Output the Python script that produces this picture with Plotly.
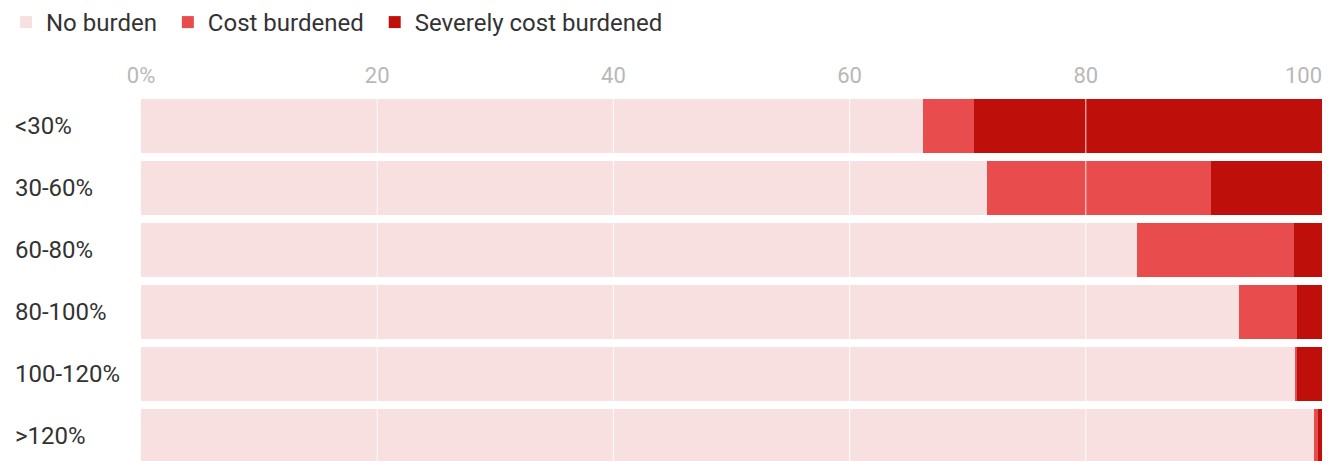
import plotly.graph_objects as go

categories = ["<30%", "30-60%", "60-80%", "80-100%", "100-120%", ">120%"]
no_burden = [66.2, 71.6, 84.3, 93.0, 97.7, 99.3]
cost_burdened = [4.3, 19.0, 13.3, 4.9, 0.2, 0.4]
severely_burdened = [29.5, 9.4, 2.4, 2.1, 2.1, 0.3]

tick_vals = [0, 20, 40, 60, 80]
tick_text = ["0%", "20", "40", "60", "80"]
end_tick_vals = [100]
end_tick_text = ["100"]

series = [
    ("No burden\u00a0", no_burden, "#f8e0e1"),
    ("Cost burdened\u00a0", cost_burdened, "#e94c4c"),
    ("Severely cost burdened", severely_burdened, "#bf0f0a"),
]

fig = go.Figure()
for name, vals, color in series:
    fig.add_trace(go.Bar(
        y=categories, x=vals, name=name, orientation="h",
        marker=dict(color=color, line=dict(width=0)),
        hoverinfo="x+name",
    ))
# empty helper trace so that the second (end-label) axis is drawn
fig.add_trace(go.Scatter(x=[None], y=[None], xaxis="x2", yaxis="y",
                         showlegend=False, hoverinfo="skip", mode="markers"))

W, H = 1343, 461
ml, mr, mt, mb = 141, 21, 95, 0
plot_w = W - ml - mr
plot_h = H - mt - mb
pitch = 62.0
units = plot_h / pitch

tickfont = dict(size=22, color="#b8b8b8")

fig.update_layout(
    width=W, height=H,
    barmode="stack", bargap=0.13,
    margin=dict(l=ml, r=mr, t=mt, b=mb, pad=0, autoexpand=False),
    paper_bgcolor="white", plot_bgcolor="white",
    font=dict(family="Roboto, sans-serif", color="#333333"),
    showlegend=True,
    legend=dict(
        orientation="h", xref="container", yref="container",
        x=6 / W, y=1.0, xanchor="left", yanchor="top",
        font=dict(size=24, color="#333333"),
        traceorder="normal", itemwidth=30,
        bgcolor="rgba(0,0,0,0)",
    ),
    xaxis=dict(
        side="top", range=[0, 100], tickvals=tick_vals, ticktext=tick_text,
        showgrid=False, zeroline=False, showline=False, ticks="",
        tickfont=tickfont, fixedrange=True,
        ticklabelstandoff=7, automargin=False,
    ),
    xaxis2=dict(
        overlaying="x", side="top", range=[0, 100],
        tickvals=end_tick_vals, ticktext=end_tick_text,
        ticklabelposition="outside left", ticklabeloverflow="allow",
        showgrid=False, zeroline=False, showline=False, ticks="",
        tickfont=tickfont, fixedrange=True,
        ticklabelstandoff=7, automargin=False,
    ),
    yaxis=dict(
        range=[-0.5 + units, -0.5], showticklabels=False, showgrid=False,
        zeroline=False, showline=False, ticks="", fixedrange=True,
        categoryorder="array", categoryarray=categories, automargin=False,
    ),
)

# white gridlines drawn above the bars
for v in tick_vals[1:]:
    fig.add_shape(type="line", xref="x", yref="paper", x0=v, x1=v, y0=0, y1=1,
                  line=dict(color="rgba(255,255,255,0.85)", width=1), layer="above")

# left-aligned category labels
for c in categories:
    fig.add_annotation(
        x=(13 - ml) / plot_w, xref="paper", y=c, yref="y",
        text=c, showarrow=False, xanchor="left", yanchor="middle",
        font=dict(size=24, color="#333333"),
    )

fig.write_html("out.html")
